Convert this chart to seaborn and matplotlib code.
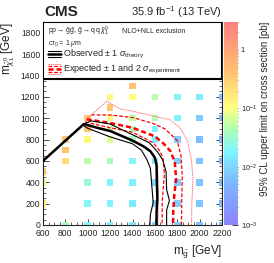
import numpy as np
import pandas as pd
import matplotlib
matplotlib.use("Agg")
import matplotlib.pyplot as plt
import seaborn as sns
from matplotlib.colors import LogNorm, LinearSegmentedColormap
from matplotlib.patches import Rectangle
from matplotlib.ticker import MultipleLocator, FixedLocator, FixedFormatter

# grid points (m_gluino, m_chi) and the 95% CL upper limit [pb]
m_gluino = [1400,
            1200, 1400, 1600, 1800, 2000, 2200,
            1200,
            1000, 1200, 1400, 1600, 1800, 2000, 2200,
            1000, 1200, 1400, 1600,
            800, 1000, 1200, 1400, 1600, 1800, 2000, 2200,
            800,
            800, 1000, 1200, 1400, 1600, 1800, 2000, 2200,
            600,
            600, 1000, 1200, 1400, 1600, 1800, 2000, 2200,
            600, 1000, 1200, 1400, 1600, 1800, 2000, 2200,
            800, 1000, 1200, 1400, 1600, 1800, 2000, 2200]
m_chi = [1300,
         1200, 1200, 1200, 1200, 1200, 1200,
         1100,
         1000, 1000, 1000, 1000, 1000, 1000, 1000,
         900, 900, 900, 900,
         800, 800, 800, 800, 800, 800, 800, 800,
         700,
         600, 600, 600, 600, 600, 600, 600, 600,
         500,
         400, 400, 400, 400, 400, 400, 400, 400,
         200, 200, 200, 200, 200, 200, 200, 200,
         0, 0, 0, 0, 0, 0, 0, 0]
xsec_limit = [0.45,
              0.12, 0.11, 0.05, 0.02, 0.015, 0.007,
              0.4,
              0.35, 0.12, 0.055, 0.045, 0.018, 0.008, 0.006,
              0.4, 0.05, 0.04, 0.018,
              0.4, 0.12, 0.075, 0.035, 0.016, 0.008, 0.006, 0.006,
              0.4,
              0.22, 0.05, 0.04, 0.02, 0.015, 0.008, 0.007, 0.006,
              0.35,
              0.13, 0.03, 0.018, 0.017, 0.012, 0.008, 0.007, 0.006,
              0.14, 0.02, 0.017, 0.015, 0.01, 0.008, 0.007, 0.006,
              0.04, 0.02, 0.017, 0.015, 0.01, 0.008, 0.007, 0.006]

# exclusion contours
obs_x = [600, 965, 1100, 1200, 1300, 1400, 1500, 1560, 1600, 1615, 1618, 1622, 1615, 1615]
obs_y = [600, 945, 905, 880, 835, 790, 735, 690, 630, 560, 400, 250, 120, 0]
obs_up_x = [965, 1030, 1200, 1400, 1550, 1620, 1670, 1700, 1705, 1730, 1705, 1705]
obs_up_y = [945, 975, 945, 845, 770, 690, 610, 500, 330, 230, 140, 0]
obs_dn_x = [955, 1000, 1200, 1400, 1480, 1530, 1560, 1570, 1585, 1560, 1555]
obs_dn_y = [935, 905, 825, 760, 700, 610, 530, 400, 210, 100, 0]
exp_x = [990, 1200, 1400, 1600, 1680, 1740, 1778, 1790, 1775, 1765, 1762]
exp_y = [990, 955, 910, 830, 760, 690, 590, 430, 300, 150, 0]
exp_up_x = [1030, 1200, 1406, 1585, 1690, 1800, 1835, 1845, 1840, 1838]
exp_up_y = [1030, 1030, 1005, 950, 900, 790, 640, 450, 200, 0]
exp_dn_x = [975, 1200, 1400, 1585, 1640, 1672, 1685, 1675, 1665, 1665]
exp_dn_y = [965, 910, 868, 770, 700, 630, 480, 350, 200, 0]
exp_up2_x = [985, 1170, 1290, 1406, 1585, 1734, 1823, 1890, 1928, 1940, 1930, 1928]
exp_up2_y = [985, 1160, 1085, 1065, 1020, 985, 914, 790, 605, 420, 200, 0]
exp_dn2_x = [965, 1200, 1400, 1530, 1600, 1625, 1630, 1628]
exp_dn2_y = [950, 888, 800, 720, 640, 560, 300, 0]

cbar_ticks = [1e-3, 1e-2, 1e-1, 1]
cbar_labels = ["$10^{-3}$", "$10^{-2}$", "$10^{-1}$", "1"]

sns.set_style("ticks")
plt.rcParams["font.family"] = ["Liberation Sans", "DejaVu Sans"]
plt.rcParams["mathtext.fontset"] = "custom"
plt.rcParams["mathtext.rm"] = "Liberation Sans"
plt.rcParams["mathtext.it"] = "Liberation Sans:italic"
plt.rcParams["mathtext.bf"] = "Liberation Sans:bold"

# pastel rainbow palette like the ROOT one
cmap = LinearSegmentedColormap.from_list("pastel_rainbow", [
    (0.00, "#8a84ff"),
    (0.20, "#7fb4ff"),
    (0.36, "#7ff4ff"),
    (0.48, "#b4ffb0"),
    (0.58, "#ffff80"),
    (0.76, "#ffc070"),
    (1.00, "#ff7f7f"),
])
norm = LogNorm(vmin=1e-3, vmax=3)

df = pd.DataFrame({"mg": m_gluino, "mchi": m_chi, "limit": xsec_limit})

fig = plt.figure(figsize=(2.74, 2.63), dpi=100)
ax = fig.add_axes([43 / 274, 38 / 263, 179 / 274, 203 / 263])
cax = fig.add_axes([224 / 274, 38 / 263, 14 / 274, 203 / 263])

sns.scatterplot(data=df, x="mg", y="mchi", hue="limit", hue_norm=norm,
                palette=cmap, marker="s", s=22, linewidth=0, legend=False,
                ax=ax, zorder=1)

# contours
ax.plot(obs_x, obs_y, color="black", lw=1.8, zorder=4)
ax.plot(obs_up_x, obs_up_y, color="black", lw=0.8, zorder=4)
ax.plot(obs_dn_x, obs_dn_y, color="black", lw=0.8, zorder=4)
ax.plot(exp_x, exp_y, color="red", lw=1.8, ls=(0, (2, 1.2)), zorder=3)
ax.plot(exp_up_x, exp_up_y, color="red", lw=0.9, ls=(0, (3, 1.5)), zorder=3)
ax.plot(exp_dn_x, exp_dn_y, color="red", lw=0.9, ls=(0, (3, 1.5)), zorder=3)
ax.plot(exp_up2_x, exp_up2_y, color="#ff7070", lw=0.7, ls=(0, (1.5, 0.8)), zorder=3)
ax.plot(exp_dn2_x, exp_dn2_y, color="#ff7070", lw=0.7, ls=(0, (1.5, 0.8)), zorder=3)

ax.set_xlim(600, 2200)
ax.set_ylim(0, 1900)

# legend box
ax.add_patch(Rectangle((600, 1367), 1600, 533, facecolor="white",
                       edgecolor="black", lw=1.5, zorder=5))
ax.text(645, 1814, r"pp$\rightarrow\tilde{\rm g}\,\tilde{\rm g}$, $\tilde{\rm g}\rightarrow$q$\,$q$\,\tilde{\chi}^{0}_{1}$",
        fontsize=5, va="center", ha="left", zorder=6)
ax.text(1310, 1814, "NLO+NLL exclusion", fontsize=5, va="center", ha="left", zorder=6)
ax.text(645, 1700, r"c$\tau_{0}$ = 1 $\mu$m", fontsize=5, va="center", ha="left", zorder=6)
ax.plot([645, 760], [1600, 1600], color="black", lw=1.8, zorder=6)
ax.plot([645, 760], [1625, 1625], color="black", lw=0.8, zorder=6)
ax.plot([645, 760], [1575, 1575], color="black", lw=0.8, zorder=6)
ax.text(776, 1600, r"Observed $\pm$ 1 $\sigma_{\rm theory}$", fontsize=6.5,
        va="center", ha="left", zorder=6)
ax.plot([645, 760], [1460, 1460], color="red", lw=1.8, ls=(0, (2, 1.2)), zorder=6)
ax.plot([645, 760], [1485, 1485], color="red", lw=0.9, ls=(0, (3, 1.5)), zorder=6)
ax.plot([645, 760], [1435, 1435], color="red", lw=0.9, ls=(0, (3, 1.5)), zorder=6)
ax.plot([645, 760], [1505, 1505], color="#ff7070", lw=0.7, ls=(0, (1.5, 0.8)), zorder=6)
ax.plot([645, 760], [1415, 1415], color="#ff7070", lw=0.7, ls=(0, (1.5, 0.8)), zorder=6)
ax.text(776, 1460, r"Expected $\pm$ 1 and 2 $\sigma_{\rm experiment}$", fontsize=6.5,
        va="center", ha="left", zorder=6)

# axes style
ax.xaxis.set_major_locator(MultipleLocator(200))
ax.xaxis.set_minor_locator(MultipleLocator(50))
ax.yaxis.set_major_locator(MultipleLocator(200))
ax.yaxis.set_minor_locator(MultipleLocator(50))
ax.tick_params(which="both", direction="in", top=True, right=True, labelsize=6.2)
ax.tick_params(axis="x", pad=3)
ax.tick_params(axis="y", pad=2)
ax.tick_params(which="major", length=4, width=0.6)
ax.tick_params(which="minor", length=2, width=0.5)
for sp in ax.spines.values():
    sp.set_linewidth(0.8)
ax.set_xlabel(r"m$_{\tilde{\rm g}}$ [GeV]", fontsize=8.5, loc="right", labelpad=4)
ax.set_ylabel(r"m$_{\tilde{\chi}^{0}_{1}}$ [GeV]", fontsize=8.5, loc="top", labelpad=3)

fig.text(44 / 274, 1 - 12 / 263, "CMS", fontsize=11, fontweight="bold", va="center", ha="left")
fig.text(222 / 274, 1 - 12 / 263, r"35.9 fb$^{-1}$ (13 TeV)", fontsize=8, va="center", ha="right")

# colorbar
sm = plt.cm.ScalarMappable(norm=norm, cmap=cmap)
cb = fig.colorbar(sm, cax=cax)
cb.outline.set_linewidth(0)
cb.ax.yaxis.set_major_locator(FixedLocator(cbar_ticks))
cb.ax.yaxis.set_major_formatter(FixedFormatter(cbar_labels))
cb.ax.tick_params(which="major", direction="in", length=4, width=0.6, labelsize=5.5, pad=2)
cb.ax.tick_params(which="minor", direction="in", length=2, width=0.5)
cb.set_label("95% CL upper limit on cross section [pb]", fontsize=7, loc="top", labelpad=2)

fig.savefig("out.png", dpi=100)
